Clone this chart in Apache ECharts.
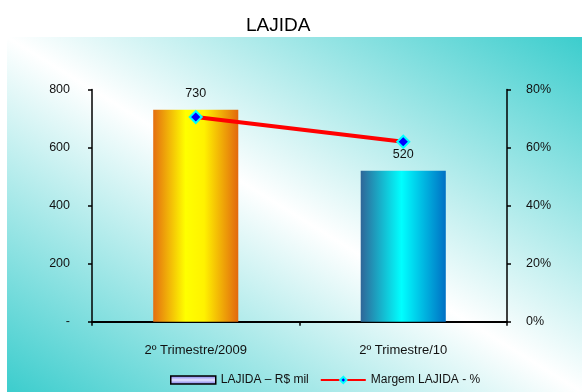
<!DOCTYPE html>
<html>
<head>
<meta charset="utf-8">
<script src="https://cdn.jsdelivr.net/npm/echarts@6/dist/echarts.min.js"></script>
<style>
  html, body { margin: 0; padding: 0; background: #ffffff; }
  #chart { width: 582px; height: 392px; }
</style>
</head>
<body>
<div id="chart"></div>
<script>
// Quarter categories and the two series
const categories = ['2º Trimestre/2009', '2º Trimestre/10'];
const lajidaValues = [730, 520];        // LAJIDA – R$ mil
const margemValues = [70.5, 62.0];      // Margem LAJIDA - %
const leftAxisTicks = [0, 200, 400, 600, 800];
const rightAxisTicks = [0, 20, 40, 60, 80];

const seriesNames = ['LAJIDA – R$ mil', 'Margem LAJIDA - %'];

// Horizontal "cylinder" shading for each bar
function barGradient(stops) {
  return { type: 'linear', x: 0, y: 0, x2: 1, y2: 0, colorStops: stops };
}
const barFills = [
  barGradient([
    { offset: 0, color: '#E46E10' },
    { offset: 0.38, color: '#FFFF00' },
    { offset: 0.6, color: '#FFF200' },
    { offset: 1, color: '#E2680E' }
  ]),
  barGradient([
    { offset: 0, color: '#2F6698' },
    { offset: 0.48, color: '#00FFFF' },
    { offset: 1, color: '#0070C4' }
  ])
];

const chart = echarts.init(document.getElementById('chart'), null, { renderer: 'canvas' });

const option = {
  animation: false,
  backgroundColor: '#ffffff',
  textStyle: { fontFamily: 'Liberation Sans, Arial, sans-serif' },
  graphic: [{
    type: 'rect',
    z: -10,
    silent: true,
    shape: { x: 7, y: 37, width: 575, height: 355 },
    style: {
      fill: {
        type: 'linear',
        x: 135.8, y: 471.5, x2: 453.2, y2: -42.5,
        global: true,
        colorStops: [
          { offset: 0, color: '#3CCDCD' },
          { offset: 0.5, color: '#FFFFFF' },
          { offset: 1, color: '#3CCDCD' }
        ]
      }
    }
  }],
  title: {
    text: 'LAJIDA',
    left: 241,
    top: 11,
    textStyle: { fontSize: 19, fontWeight: 'normal', color: '#000000', fontFamily: 'Liberation Sans, Arial, sans-serif' }
  },
  legend: {
    left: 165,
    top: 369,
    itemGap: 11,
    itemWidth: 45,
    itemHeight: 8,
    textStyle: { fontSize: 12, color: '#111111' },
    data: [
      {
        name: seriesNames[0],
        icon: 'rect',
        itemStyle: {
          color: { type: 'linear', x: 0, y: 0, x2: 0, y2: 1, colorStops: [
            { offset: 0, color: '#6A6AE6' },
            { offset: 0.5, color: '#E4E4FF' },
            { offset: 1, color: '#6A6AE6' }
          ] },
          borderColor: '#000000',
          borderWidth: 1.5
        }
      },
      { name: seriesNames[1] }
    ]
  },
  grid: { left: 92, right: 75, top: 89.5, bottom: 70.3, containLabel: false },
  xAxis: {
    type: 'category',
    data: categories,
    axisLine: { lineStyle: { color: '#000000', width: 2 } },
    axisTick: { show: true, length: 4, lineStyle: { color: '#000000', width: 1.5 } },
    axisLabel: { color: '#111111', fontSize: 13, margin: 22 }
  },
  yAxis: [
    {
      type: 'value',
      min: leftAxisTicks[0],
      max: leftAxisTicks[leftAxisTicks.length - 1],
      interval: leftAxisTicks[1] - leftAxisTicks[0],
      axisLine: { show: true, lineStyle: { color: '#000000', width: 1.5 } },
      axisTick: { show: true, length: 4, lineStyle: { color: '#000000', width: 1.5 } },
      splitLine: { show: false },
      axisLabel: {
        color: '#111111', fontSize: 12.5, margin: 22,
        formatter: v => (v === 0 ? '-' : String(v))
      }
    },
    {
      type: 'value',
      min: rightAxisTicks[0],
      max: rightAxisTicks[rightAxisTicks.length - 1],
      interval: rightAxisTicks[1] - rightAxisTicks[0],
      position: 'right',
      axisLine: { show: true, lineStyle: { color: '#000000', width: 1.5 } },
      axisTick: { show: true, length: 4, lineStyle: { color: '#000000', width: 1.5 } },
      splitLine: { show: false },
      axisLabel: { color: '#111111', fontSize: 12.5, margin: 19, formatter: '{value}%' }
    }
  ],
  series: [
    {
      name: seriesNames[0],
      type: 'bar',
      yAxisIndex: 0,
      barWidth: '41%',
      data: lajidaValues.map((v, i) => ({ value: v, itemStyle: { color: barFills[i] } })),
      label: { show: true, position: 'top', distance: 10, color: '#111111', fontSize: 12.5 },
      z: 2
    },
    {
      name: seriesNames[1],
      type: 'line',
      yAxisIndex: 1,
      data: margemValues,
      symbol: 'diamond',
      symbolSize: 12,
      itemStyle: { color: '#0000FF', borderColor: '#00FFFF', borderWidth: 2 },
      lineStyle: { color: '#FF0000', width: 4 },
      z: 3
    }
  ]
};

chart.setOption(option);
</script>
</body>
</html>
